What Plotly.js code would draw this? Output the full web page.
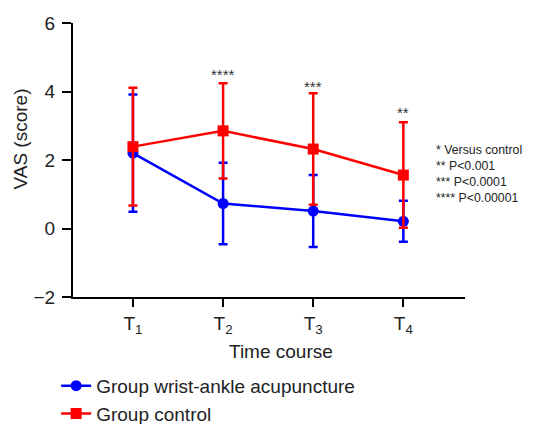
<!DOCTYPE html>
<html>
<head>
<meta charset="utf-8">
<script src="https://cdn.plot.ly/plotly-3.0.1.min.js"></script>
<style>html,body{margin:0;padding:0;background:#fff;}#chart{width:549px;height:424px;}</style>
</head>
<body>
<div id="chart"></div>
<script>
var timePoints = [1, 2, 3, 4];
var tickLabels = ["T<sub>1</sub>", "T<sub>2</sub>", "T<sub>3</sub>", "T<sub>4</sub>"];
var acuMean = [2.2, 0.73, 0.51, 0.21];
var acuSD = [1.71, 1.19, 1.05, 0.60];
var ctrlMean = [2.39, 2.85, 2.32, 1.56];
var ctrlSD = [1.72, 1.39, 1.63, 1.54];
var starX = [2, 3, 4];
var starY = [4.5, 4.15, 3.4];
var starText = ["****", "***", "**"];
var noteText = ["* Versus control", "** P&lt;0.001", "*** P&lt;0.0001", "**** P&lt;0.00001"];

var FONT = "Liberation Sans, Arial, sans-serif";

var traces = [
  {
    x: timePoints, y: acuMean, type: "scatter", mode: "lines+markers",
    name: "Group wrist-ankle acupuncture",
    line: {color: "#0000ff", width: 2.5},
    marker: {color: "#0000ff", size: 11, symbol: "circle"},
    error_y: {type: "data", array: acuSD, visible: true, color: "#0000ff", thickness: 2.5, width: 4.5}
  },
  {
    x: timePoints, y: ctrlMean, type: "scatter", mode: "lines+markers",
    name: "Group control",
    line: {color: "#ff0000", width: 2.5},
    marker: {color: "#ff0000", size: 11, symbol: "square"},
    error_y: {type: "data", array: ctrlSD, visible: true, color: "#ff0000", thickness: 2.5, width: 4.5}
  }
];

var annotations = starX.map(function (x, i) {
  return {x: x, y: starY[i], xref: "x", yref: "y", text: starText[i], showarrow: false,
          font: {family: FONT, size: 15, color: "#333"}};
});
annotations.push({
  xref: "paper", yref: "paper", x: 0.92, y: 0.57, xanchor: "left", yanchor: "top",
  text: noteText.join("<br>"), align: "left", showarrow: false,
  font: {family: FONT, size: 12.3, color: "#222"}
});
annotations.push({
  xref: "paper", yref: "paper", x: -0.135, y: 0.575, xanchor: "center", yanchor: "middle",
  text: "VAS (score)", textangle: -90, showarrow: false,
  font: {family: FONT, size: 19, color: "#222"}
});
annotations.push({
  xref: "paper", yref: "paper", x: 0.53, y: -0.2, xanchor: "center", yanchor: "middle",
  text: "Time course", showarrow: false,
  font: {family: FONT, size: 19, color: "#222"}
});

var layout = {
  width: 549, height: 424,
  margin: {l: 73, r: 84, t: 23, b: 127, autoexpand: false},
  paper_bgcolor: "#fff", plot_bgcolor: "#fff",
  font: {family: FONT, color: "#222"},
  showlegend: true,
  legend: {
    orientation: "v", x: -0.043, y: -0.255, xanchor: "left", yanchor: "top",
    font: {family: FONT, size: 19, color: "#222"},
    traceorder: "normal"
  },
  xaxis: {
    range: [0.335, 4.684], tickmode: "array", tickvals: timePoints, ticktext: tickLabels,
    showline: true, linecolor: "#000", linewidth: 2, ticks: "outside", ticklen: 8,
    tickwidth: 2, tickcolor: "#000", showgrid: false, zeroline: false,
    tickfont: {family: FONT, size: 19, color: "#222"}
  },
  yaxis: {
    range: [-2, 6], tickvals: [-2, 0, 2, 4, 6],
    showline: true, linecolor: "#000", linewidth: 2, ticks: "outside", ticklen: 9,
    tickwidth: 2, tickcolor: "#000", showgrid: false, zeroline: false,
    ticklabelstandoff: 3,
    tickfont: {family: FONT, size: 19, color: "#222"}
  },
  annotations: annotations
};

Plotly.newPlot("chart", traces, layout, {staticPlot: true, displayModeBar: false});
</script>
</body>
</html>
